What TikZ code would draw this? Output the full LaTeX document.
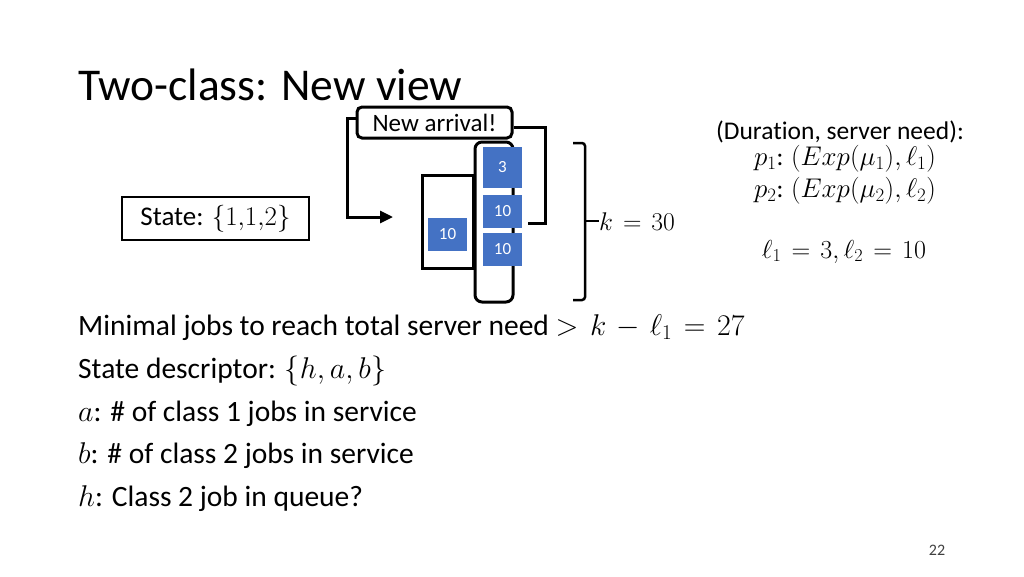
\RequirePackage{fix-cm}
\documentclass[tikz,border=0pt]{standalone}
\usepackage{fontspec}
\setmainfont{Carlito}[Ligatures={NoCommon}]
\usetikzlibrary{arrows.meta}
\definecolor{jobblue}{HTML}{4472C4}
\definecolor{pagegray}{HTML}{404040}
\newcommand{\mth}[2]{{\fontsize{#1}{#1}\selectfont$#2$}}
\medmuskip=6mu plus 2mu minus 4mu
\thickmuskip=7mu plus 5mu
\tikzset{
  txt/.style={inner sep=0pt, anchor=base west},
  ctxt/.style={inner sep=0pt, anchor=base},
  job/.style={fill=jobblue, text=white, inner sep=0pt, font=\fontsize{17}{20}\selectfont},
  thick3/.style={line width=3pt},
  conn/.style={line width=3pt},
}
\begin{document}
\begin{tikzpicture}[x=1pt,y=-1pt]
\useasboundingbox (0,0) rectangle (1024,576);
\fill[white] (0,0) rectangle (1024,576);
% title
\node[txt] (title) at (78,100) {\fontsize{45.5}{50}\selectfont Two-class: New view};
% state box
\node[draw, line width=2pt, minimum width=187pt, minimum height=43pt, inner sep=0pt,
      font=\fontsize{27}{30}\selectfont] (state) at (215.5,218.5) {State: \mth{27}{\{1{,}1{,}2\}}};
% new arrival
\node[draw, thick3, rounded corners=5pt, minimum width=155pt, minimum height=31pt, inner sep=0pt,
      font=\fontsize{25}{28}\selectfont] (na) at (434.5,122.5) {New arrival!};
% queue
\node[draw, thick3, minimum width=51pt, minimum height=93pt, inner sep=0pt] (queue) at (447.5,221.5) {};
\node[job, minimum width=39pt, minimum height=33pt] (q1) at (447.5,234.5) {10};
% server column
\node[draw, thick3, rounded corners=7pt, minimum width=38pt, minimum height=160pt, inner sep=0pt] (server) at (494,222) {};
\node[job, minimum width=39pt, minimum height=41pt] (s1) at (502.5,167.5) {3};
\node[job, minimum width=39pt, minimum height=33pt] (s2) at (502.5,211.5) {10};
\node[job, minimum width=39pt, minimum height=33pt] (s3) at (502.5,249.5) {10};
% connectors
\coordinate (arrtip) at (393,217);
\draw[conn, -{Triangle[length=13pt,width=12pt]}] (na.west |- 0,118) -- (347,118) -- (347,217) -- (arrtip);
\coordinate (ret) at (528,223);
\draw[conn] (na.east |- 0,127) -- (545,127) -- (545,223) -- (ret);
% brace
\node[txt] (k) at (599,230) {\mth{25.6}{k=30}};
\draw[line width=2.5pt, rounded corners=3pt] (573,143) -- (585,143) -- (585,300) -- (573,300);
\draw[line width=2.5pt] (585,221) -- (k.west |- 0,221);
% right text
\begin{scope}[font=\fontsize{25.5}{30}\selectfont]
\node[ctxt] (dur) at (840,139) {(Duration, server need):};
\node[ctxt] (p1) at (845,165) {\mth{27}{p_1}: \mth{27}{(Exp(\mu_1),\ell_1)}};
\node[ctxt] (p2) at (845,197) {\mth{27}{p_2}: \mth{27}{(Exp(\mu_2),\ell_2)}};
\node[ctxt] (ell) at (844,258) {\mth{26}{\ell_1=3,\ell_2=10}};
\end{scope}
% bottom text
\begin{scope}[font=\fontsize{29.5}{34}\selectfont]
\node[txt] (l1) at (78,335) {Minimal jobs to reach total server need \mth{30}{>k-\ell_1=27}};
\node[txt] (l2) at (78,378) {State descriptor: \mth{30}{\{h,a,b\}}};
\node[txt] (l3) at (78,421) {\mth{30}{a}: \# of class 1 jobs in service};
\node[txt] (l4) at (78,463) {\mth{30}{b}: \# of class 2 jobs in service};
\node[txt] (l5) at (78,506) {\mth{30}{h}: Class 2 job in queue?};
\end{scope}
% page number
\node[ctxt, text=pagegray, font=\fontsize{16}{18}\selectfont] (page) at (937,555) {22};
\end{tikzpicture}
\end{document}
